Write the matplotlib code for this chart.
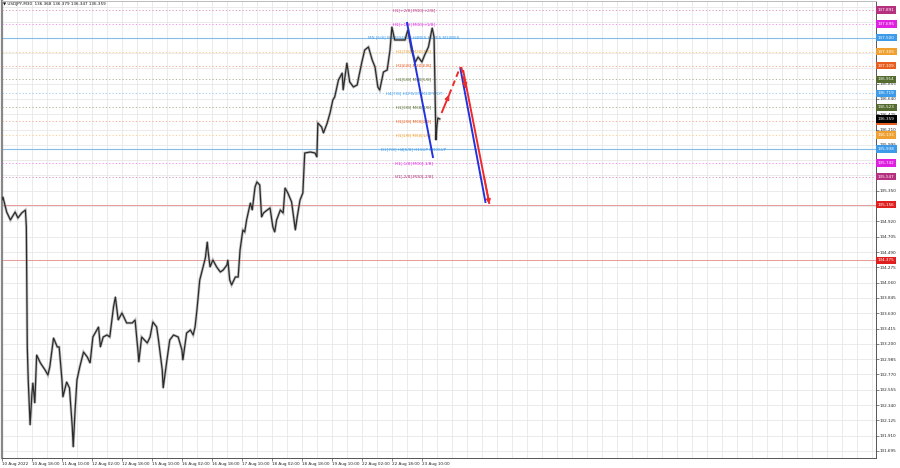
import numpy as np
import matplotlib
matplotlib.use('Agg')
import matplotlib.pyplot as plt
from matplotlib import transforms

# USDJPY M30 price path: (bar number, price)
price_path = [
    (0, 135.151), (3, 135.263), (7, 135.052), (11, 134.940), (16, 135.052), (19, 134.968),
    (23, 135.038), (27, 135.080), (28, 134.842), (29, 133.156), (30, 132.692), (32, 132.060),
    (34, 132.509), (35, 132.650), (37, 132.369), (39, 133.043), (43, 132.931), (48, 132.832),
    (51, 132.762), (53, 132.875), (57, 133.282), (61, 133.156), (63, 133.156), (66, 132.692),
    (67, 132.453), (71, 132.664), (74, 132.580), (77, 132.032), (78, 131.751), (80, 132.270),
    (82, 132.692), (85, 132.875), (89, 133.085), (93, 133.015), (96, 132.931), (99, 133.296),
    (105, 133.437), (107, 133.156), (110, 133.296), (114, 133.324), (117, 133.296), (121, 133.718),
    (123, 133.858), (126, 133.535), (130, 133.633), (135, 133.493), (141, 133.493), (144, 133.535),
    (147, 133.113), (148, 132.945), (151, 133.296), (157, 133.212), (160, 133.296), (163, 133.507),
    (167, 133.437), (169, 133.254), (173, 132.832), (174, 132.580), (178, 132.973), (181, 133.254),
    (185, 133.324), (190, 133.296), (194, 133.113), (195, 132.973), (199, 133.352), (203, 133.394),
    (206, 133.324), (208, 133.437), (210, 133.675), (213, 134.097), (219, 134.406), (221, 134.631),
    (222, 134.490), (224, 134.280), (227, 134.378), (231, 134.280), (235, 134.209), (238, 134.237),
    (242, 134.308), (243, 134.378), (245, 134.097), (247, 134.027), (251, 134.139), (254, 134.139),
    (256, 134.518), (259, 134.799), (261, 134.771), (263, 134.940), (267, 135.179), (269, 135.080),
    (272, 135.404), (274, 135.474), (277, 135.432), (279, 134.982), (281, 135.038), (285, 135.080),
    (288, 135.109), (291, 134.842), (293, 134.771), (295, 134.940), (299, 135.080), (302, 135.038),
    (304, 135.390), (307, 135.319), (311, 135.193), (315, 134.799), (317, 134.982), (320, 135.221),
    (323, 135.319), (325, 135.881), (331, 135.895), (336, 135.881), (338, 135.825), (339, 136.303),
    (343, 136.247), (345, 136.162), (349, 136.303), (352, 136.443), (355, 136.626), (357, 136.668),
    (361, 136.907), (365, 137.005), (366, 136.766), (370, 137.146), (373, 136.879), (377, 136.809),
    (381, 136.837), (382, 136.907), (386, 137.160), (389, 137.328), (393, 137.371), (397, 137.188),
    (400, 137.090), (403, 136.809), (405, 136.766), (409, 137.019), (413, 137.047), (416, 137.328),
    (418, 137.652), (421, 137.469), (425, 137.469), (429, 137.469), (432, 137.469), (435, 137.609),
    (439, 137.328), (443, 137.160), (446, 137.230), (450, 137.160), (453, 137.258), (457, 137.371),
    (461, 137.638), (463, 137.511), (464, 136.809), (465, 136.064), (466, 136.247), (467, 136.373),
    (469, 136.359),
]

header = '\u25bc USDJPY,M30  136.368 136.379 136.347 136.359'
last_price = 136.359

# Murrey math levels
mm_prices = [137.891, 137.695, 137.500, 137.305, 137.109, 136.914, 136.719,
             136.523, 136.328, 136.133, 135.938, 135.742, 135.547]
mm_labels = ['H1[+2/8] M30[+2/8]', 'H1[+1/8] M30[+1/8]',
             'MN [6/8] W1RES[8/8] H4RES H1RES M30RES',
             'H1[7/8] M30[7/8]', 'H1[6/8] M30[6/8]', 'H1[5/8] M30[5/8]',
             'H4[7/8] H1PIVOT M30PIVOT', 'H1[3/8] M30[3/8]', 'H1[2/8] M30[2/8]',
             'H1[1/8] M30[1/8]', 'D1[7/8] H4[6/8] H1SUP M30SUP',
             'H1[-1/8] M30[-1/8]', 'H1[-2/8] M30[-2/8]']
mm_kind = ['p2', 'p1', 'res', 'o', 'r', 'g', 'piv', 'g', 'r', 'o', 'sup', 'p1', 'p2']

# support lines
red_levels = [135.156, 134.375]

# forecast arrows: (bar0, price0, bar1, price1, colour, style, head)
projections = [
    (434, 137.722, 462, 135.811, 'blue', '-', False),
    (491, 137.076, 518, 135.179, 'blue', '-', False),
    (471, 136.443, 479, 136.697, 'red', '-', True),
    (479, 136.697, 491, 137.090, 'red', '--', False),
    (492, 137.090, 497, 136.794, 'red', '--', True),
    (494, 137.047, 522, 135.165, 'red', '-', True),
]

# axis ticks (the ones hidden under the price boxes are left out)
y_ticks = [131.695, 131.910, 132.125, 132.340, 132.555, 132.770, 132.985, 133.200,
           133.415, 133.630, 133.845, 134.060, 134.275, 134.490, 134.705, 134.920,
           135.350, 135.780, 135.995, 136.210, 136.425, 136.640,
           136.855, 137.930]
y_grid = [135.135, 135.565, 137.070, 137.285, 137.500, 137.715]
date_ticks = [2, 34, 66, 98, 130, 162, 194, 226, 258, 290, 322, 354, 386, 418, 450]
date_labels = ['10 Aug 2022', '10 Aug 18:00', '11 Aug 10:00', '12 Aug 02:00',
               '12 Aug 18:00', '15 Aug 10:00', '16 Aug 02:00', '16 Aug 18:00',
               '17 Aug 10:00', '18 Aug 02:00', '18 Aug 18:00', '19 Aug 10:00',
               '22 Aug 02:00', '22 Aug 18:00', '23 Aug 10:00']

colors = {'p2': '#b5307e', 'p1': '#e020e0', 'res': '#3d9be9', 'o': '#f0a030',
          'r': '#e85d20', 'g': '#556b2f', 'piv': '#3d9be9', 'sup': '#3d9be9',
          'red': '#ee2a2a', 'blue': '#2233dd'}

fig = plt.figure(figsize=(9, 4.68), dpi=100)
ax = fig.add_axes([0.0022, 0.0214, 0.971, 0.9765])
ax.set_xlim(2.1, 934.4)
ax.set_ylim(131.596, 138.017)

# grid
ax.set_xticks(date_ticks)
ax.set_xticklabels(date_labels)
ax.set_xticks(np.arange(2, 934, 16), minor=True)
ax.set_yticks(y_ticks)
ax.set_yticklabels(['%.3f' % v for v in y_ticks])
ax.set_yticks(y_grid, minor=True)
ax.grid(which='both', color='#e8e8e8', lw=0.6, zorder=0)
ax.set_axisbelow(True)
ax.yaxis.tick_right()
ax.tick_params(axis='y', labelsize=3, length=2, width=0.4, pad=1, colors='#222')
ax.tick_params(axis='x', labelsize=3, length=2, width=0.4, pad=1, colors='#222')
ax.tick_params(axis='both', which='minor', length=0)
for lbl in ax.get_xticklabels():
    lbl.set_ha('left')

for side, c, w in [('left', '#888', 1.6), ('right', '#555', 0.7), ('bottom', '#555', 0.7), ('top', '#bbb', 0.7)]:
    ax.spines[side].set_color(c)
    ax.spines[side].set_linewidth(w)

blend = transforms.blended_transform_factory(ax.transAxes, ax.transData)

def price_box(price, fc):
    ax.text(1.0025, price, '%.3f' % price, transform=blend, ha='left', va='center',
            fontsize=3, color='white', zorder=10, clip_on=False,
            bbox=dict(boxstyle='square,pad=0.4', fc=fc, ec='none'))

# levels
for p, lab, k in zip(mm_prices, mm_labels, mm_kind):
    c = colors[k]
    if k in ('res', 'sup'):
        ax.axhline(p, color='#86bde9', lw=0.8, zorder=1)
    else:
        ax.axhline(p, color=c, lw=0.6, ls=(0, (1.5, 2.5)), alpha=0.55, zorder=1)
    ax.text(441.6, p, lab, ha='center', va='center', fontsize=3, color=c, zorder=2)
    price_box(p, c)

for p in red_levels:
    ax.axhline(p, color='#e89a9a', lw=0.7, zorder=1)
    price_box(p, '#e02020')

price_box(last_price, 'black')

# price bars
bx = [b for b, v in price_path]
by = [v for b, v in price_path]
ax.plot(bx, by, color='#9a9a9a', lw=2.0, alpha=0.6, zorder=3, solid_joinstyle='miter')
ax.plot(bx, by, color='#2b2b2b', lw=0.9, zorder=4)

# forecast arrows
for x0, y0, x1, y1, c, ls, head in projections:
    col = colors[c]
    ax.plot([x0, x1], [y0, y1], color=col, lw=1.4, ls=(0, (3, 2)) if ls == '--' else '-',
            zorder=5, solid_capstyle='butt')
    if head:
        ax.annotate('', xy=(x1, y1), xytext=(x1 - (x1 - x0) * 0.2, y1 - (y1 - y0) * 0.2),
                    arrowprops=dict(arrowstyle='-|>', color=col, lw=1.2, mutation_scale=6,
                                    shrinkA=0, shrinkB=0), zorder=6)

ax.text(0.0015, 0.997, header, transform=ax.transAxes, ha='left', va='top',
        fontsize=3, color='#111', zorder=10)

fig.savefig('out.png', dpi=100)
